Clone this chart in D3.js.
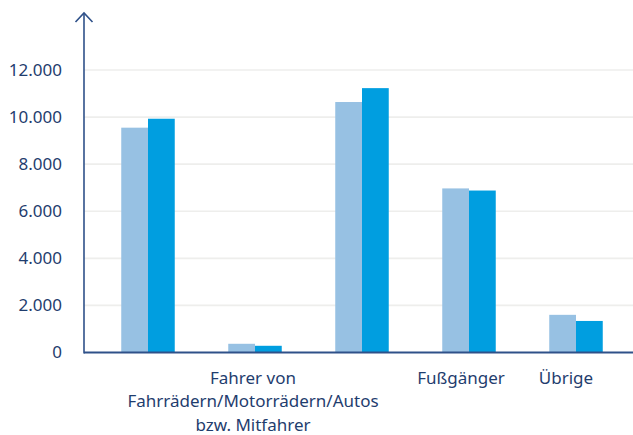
<!DOCTYPE html>
<html>
<head>
<meta charset="utf-8">
<style>
  body { margin: 0; background: #fff; }
  svg { display: block; font-family: "Noto Sans", sans-serif; }
</style>
</head>
<body>
<svg width="633" height="435"></svg>
<script src="https://cdn.jsdelivr.net/npm/d3@7"></script>
<script>

// data
var categories = ["g1", "g2", "g3", "g4", "g5"];
var categoryLabels = ["", "Fahrer von\nFahrrädern/Motorrädern/Autos\nbzw. Mitfahrer", "", "Fußgänger", "Übrige"];
var seriesA = [9550, 370, 10640, 6970, 1600];
var seriesB = [9930, 285, 11230, 6880, 1340];
var yTicks = [0, 2000, 4000, 6000, 8000, 10000, 12000];

var svg = d3.select("svg"),
    width = +svg.attr("width"),
    height = +svg.attr("height");

var axisX = 84, baseY = 352.5, topY = 13;
var textColor = "#1f3d6e", axisColor = "#2f5189";
var colors = ["#97c1e3", "#009ee0"];
var labelShift = [0, -2, 0, -8, -10];

var x = d3.scaleBand()
    .domain(categories)
    .range([94.5, 629.5])
    .paddingInner(0.5)
    .paddingOuter(0.25);

var xs = d3.scaleBand()
    .domain([0, 1])
    .range([0, x.bandwidth()]);

var y = d3.scaleLinear()
    .domain([0, 12000])
    .range([baseY, 70]);

var format = d3.formatLocale({decimal: ",", thousands: ".", grouping: [3], currency: ["", "€"]}).format(",d");

// gridlines
svg.append("g")
  .selectAll("line")
  .data(yTicks.filter(function(d) { return d > 0; }))
  .enter().append("line")
    .attr("x1", axisX)
    .attr("x2", width)
    .attr("y1", function(d) { return y(d); })
    .attr("y2", function(d) { return y(d); })
    .attr("stroke", "#eeeeec")
    .attr("stroke-width", 1.6);

// tick labels
svg.append("g")
  .selectAll("text")
  .data(yTicks)
  .enter().append("text")
    .attr("x", 62)
    .attr("y", function(d) { return y(d); })
    .attr("dy", "0.35em")
    .attr("text-anchor", "end")
    .attr("fill", textColor)
    .attr("font-size", 17)
    .text(function(d) { return format(d); });

// bars
var groups = svg.append("g")
  .selectAll("g")
  .data(categories)
  .enter().append("g")
    .attr("transform", function(d) { return "translate(" + x(d) + ",0)"; });

groups.selectAll("rect")
  .data(function(d, i) { return [seriesA[i], seriesB[i]]; })
  .enter().append("rect")
    .attr("x", function(d, j) { return xs(j); })
    .attr("width", xs.bandwidth())
    .attr("y", function(d) { return y(d); })
    .attr("height", function(d) { return baseY - y(d); })
    .attr("fill", function(d, j) { return colors[j]; });

// axes
svg.append("line")
    .attr("x1", axisX).attr("x2", width)
    .attr("y1", baseY).attr("y2", baseY)
    .attr("stroke", axisColor)
    .attr("stroke-width", 2);

svg.append("line")
    .attr("x1", axisX).attr("x2", axisX)
    .attr("y1", topY).attr("y2", baseY + 1)
    .attr("stroke", axisColor)
    .attr("stroke-width", 1.6);

svg.append("path")
    .attr("d", "M" + (axisX - 8.5) + "," + (topY + 9) + "L" + axisX + "," + topY + "L" + (axisX + 8.5) + "," + (topY + 9))
    .attr("fill", "none")
    .attr("stroke", axisColor)
    .attr("stroke-width", 1.6);

// category labels
var labels = svg.append("g")
  .selectAll("text")
  .data(categories)
  .enter().append("text")
    .attr("x", function(d, i) { return x(d) + x.bandwidth() / 2 + labelShift[i]; })
    .attr("y", 378)
    .attr("text-anchor", "middle")
    .attr("fill", textColor)
    .attr("font-size", 17);

labels.selectAll("tspan")
  .data(function(d, i) { return categoryLabels[i] ? categoryLabels[i].split("\n") : []; })
  .enter().append("tspan")
    .attr("x", function() { return this.parentNode.getAttribute("x"); })
    .attr("dy", function(d, i) { return i ? 23.5 : "0.35em"; })
    .text(function(d) { return d; });

</script>
</body>
</html>
